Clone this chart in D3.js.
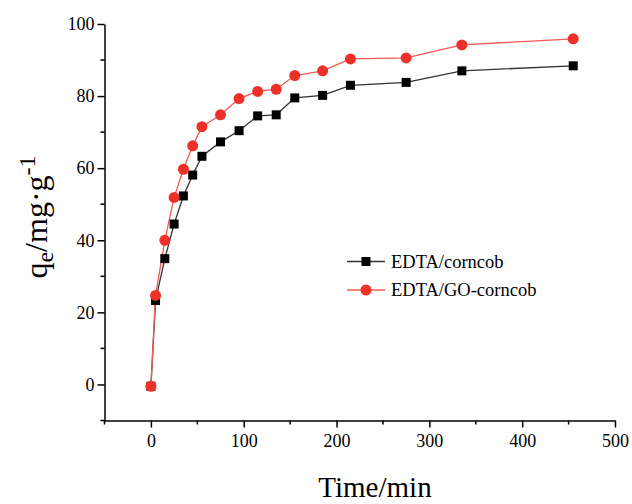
<!DOCTYPE html>
<html>
<head>
<meta charset="utf-8">
<script src="https://cdn.jsdelivr.net/npm/d3@7"></script>
<style>
  html, body { margin: 0; padding: 0; background: #fff; }
  svg { display: block; }
</style>
</head>
<body>
<svg id="chart" width="632" height="504"></svg>
<script>
const times = [0, 5, 15, 25, 35, 45, 55, 75, 95, 115, 135, 155, 185, 215, 275, 335, 455];
const edtaCorncob = [-0.5, 23.3, 34.9, 44.5, 52.3, 58.1, 63.3, 67.3, 70.4, 74.5, 74.8, 79.5, 80.2, 83.0, 83.8, 87.0, 88.4];
const edtaGoCorncob = [-0.5, 24.7, 40.0, 51.9, 59.7, 66.2, 71.5, 74.8, 79.3, 81.3, 81.9, 85.7, 87.0, 90.3, 90.6, 94.2, 95.9];
const seriesNames = ["EDTA/corncob", "EDTA/GO-corncob"];
const xTicks = [0, 100, 200, 300, 400, 500];
const yTicks = [0, 20, 40, 60, 80, 100];

const FONT = '"Liberation Serif"';
const svg = d3.select("#chart");
const x = d3.scaleLinear().domain([-50, 500]).range([104.5, 615]);
const y = d3.scaleLinear().domain([-10, 100]).range([420.5, 24]);

// axes
const xAxis = d3.axisBottom(x).tickValues(xTicks).tickSize(7).tickPadding(4).tickSizeOuter(0);
const gx = svg.append("g").attr("transform", `translate(0,${y(-10)})`).call(xAxis);
const yAxis = d3.axisLeft(y).tickValues(yTicks).tickSize(7).tickPadding(3).tickSizeOuter(0);
const gy = svg.append("g").attr("transform", `translate(${x(-50)},0)`).call(yAxis);

// minor ticks
const xMinor = d3.range(-50, 501, 100);
gx.selectAll(".minor").data(xMinor).enter().append("line")
  .attr("x1", d => x(d)).attr("x2", d => x(d)).attr("y1", 0).attr("y2", 4)
  .attr("stroke", "#000").attr("stroke-width", 1.5);
const yMinor = d3.range(-10, 100, 20);
gy.selectAll(".minor").data(yMinor).enter().append("line")
  .attr("y1", d => y(d)).attr("y2", d => y(d)).attr("x1", 0).attr("x2", -4)
  .attr("stroke", "#000").attr("stroke-width", 1.5);

[gx, gy].forEach(g => {
  g.attr("font-family", null).attr("font-size", null);
  g.select(".domain").attr("stroke", "#000").attr("stroke-width", 1.5);
  g.selectAll(".tick line").attr("stroke", "#000").attr("stroke-width", 1.5);
  g.selectAll(".tick text").style("font-family", FONT).style("font-size", "18px").attr("fill", "#000");
});
gx.selectAll(".tick text").attr("dy", "0.85em");

// axis titles
svg.append("text").attr("x", 375).attr("y", 497).attr("text-anchor", "middle")
  .style("font-family", FONT).style("font-size", "29px").text("Time/min");

const yt = svg.append("text").attr("transform", "translate(47,217) rotate(-90)")
  .attr("text-anchor", "middle").style("font-family", FONT).style("font-size", "32px");
yt.append("tspan").text("q");
yt.append("tspan").attr("dy", "6").style("font-size", "24px").text("e");
yt.append("tspan").attr("dy", "-6").text("/mg·g");
yt.append("tspan").attr("dy", "-12").style("font-size", "24px").text("-1");

// series
const colors = ["#000000", "#ee3028"];
const lineColors = ["#333333", "#f25a55"];
const data = [edtaCorncob, edtaGoCorncob];
const line = d3.line().x((d, i) => x(times[i])).y(d => y(d));

data.forEach((vals, s) => {
  svg.append("path").datum(vals).attr("d", line)
    .attr("fill", "none").attr("stroke", lineColors[s]).attr("stroke-width", 1.3);
});
// black squares
svg.append("g").selectAll("rect").data(edtaCorncob).enter().append("rect")
  .attr("x", (d, i) => x(times[i]) - 4.5).attr("y", d => y(d) - 4.5)
  .attr("width", 9).attr("height", 9).attr("fill", colors[0]);
// red circles
svg.append("g").selectAll("circle").data(edtaGoCorncob).enter().append("circle")
  .attr("cx", (d, i) => x(times[i])).attr("cy", d => y(d)).attr("r", 5.5)
  .attr("fill", colors[1]);

// legend
const legend = svg.append("g");
const legY = [261.5, 290];
seriesNames.forEach((name, s) => {
  legend.append("line").attr("x1", 347).attr("x2", 385).attr("y1", legY[s]).attr("y2", legY[s])
    .attr("stroke", lineColors[s]).attr("stroke-width", 1.3);
  if (s === 0) {
    legend.append("rect").attr("x", 366 - 4.5).attr("y", legY[s] - 4.5).attr("width", 9).attr("height", 9).attr("fill", colors[0]);
  } else {
    legend.append("circle").attr("cx", 366).attr("cy", legY[s]).attr("r", 5.5).attr("fill", colors[1]);
  }
  legend.append("text").attr("x", 391).attr("y", legY[s] + 6)
    .style("font-family", FONT).style("font-size", "18.5px").text(name);
});
</script>
</body>
</html>
